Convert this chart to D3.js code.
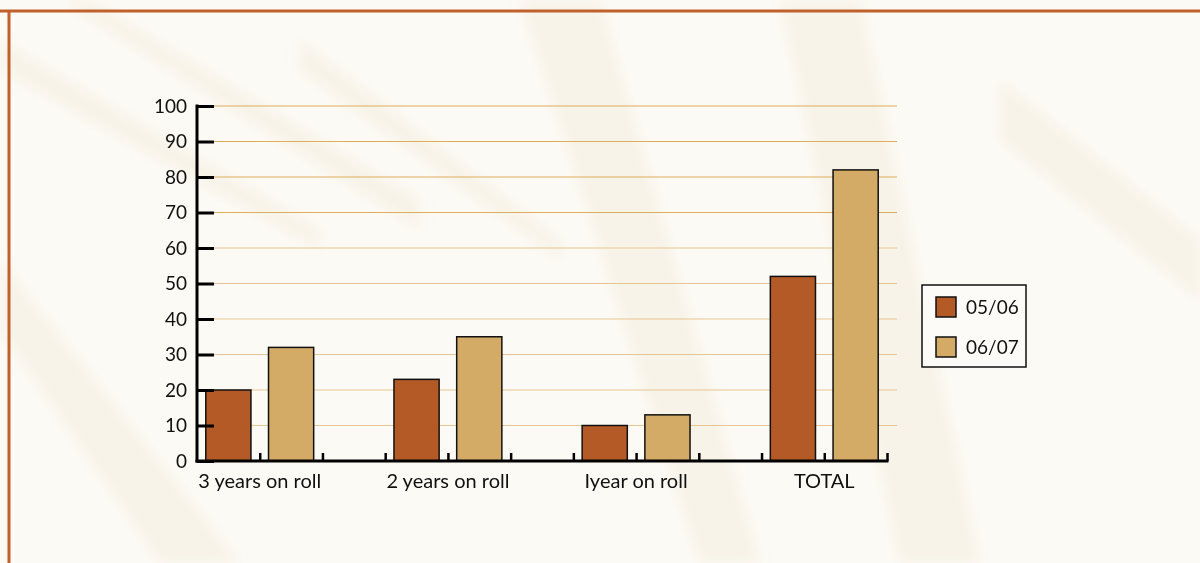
<!DOCTYPE html>
<html>
<head>
<meta charset="utf-8">
<script src="https://cdn.jsdelivr.net/npm/d3@7"></script>
<style>
  html, body { margin: 0; padding: 0; background: #fcfaf5; }
  svg { display: block; }
  text { font-family: "Lato", "Open Sans", sans-serif; fill: #111; }
</style>
</head>
<body>
<svg id="chart" width="1200" height="563"></svg>
<script>
// Pupil counts by time on roll
const categories = ["3 years on roll", "2 years on roll", "Iyear on roll", "TOTAL"];
const seriesNames = ["05/06", "06/07"];
const values0506 = [20, 23, 10, 52];
const values0607 = [32, 35, 13, 82];
const yTicks = [0, 10, 20, 30, 40, 50, 60, 70, 80, 90, 100];
const colors = ["#b35a27", "#d3aa66"];

const W = 1200, H = 563;
const svg = d3.select("#chart");

// Soft backdrop texture
const defs = svg.append("defs");
defs.append("filter").attr("id", "soft").append("feGaussianBlur").attr("stdDeviation", 6);
const bg = svg.append("g");
bg.append("rect").attr("width", W).attr("height", H).attr("fill", "#fcfaf5");
const streaks = [
  [[0, 40], [320, 230], [320, 250], [0, 70]],
  [[90, 0], [420, 200], [420, 230], [60, 0]],
  [[300, 40], [560, 240], [560, 260], [300, 70]],
  [[520, 0], [700, 563], [760, 563], [600, 0]],
  [[780, 0], [900, 563], [980, 563], [860, 0]],
  [[1000, 80], [1200, 240], [1200, 300], [1000, 140]],
  [[0, 330], [160, 563], [240, 563], [0, 260]]
];
bg.append("g").attr("filter", "url(#soft)")
  .selectAll("polygon").data(streaks).join("polygon")
  .attr("points", d => d.map(p => p.join(",")).join(" "))
  .attr("fill", "#efe4cd").attr("opacity", 0.3);

// Frame lines
svg.append("line").attr("x1", 0).attr("x2", W).attr("y1", 11).attr("y2", 11)
  .attr("stroke", "#c0612c").attr("stroke-width", 3);
svg.append("line").attr("x1", 9).attr("x2", 9).attr("y1", 10).attr("y2", H)
  .attr("stroke", "#c0612c").attr("stroke-width", 3);

const x0 = 197, x1 = 887;
const y = d3.scaleLinear().domain([0, 100]).range([461, 106]);

// 11 slots: two bars per category, an empty slot between categories
const slotCount = categories.length * 3 - 1;
const slot = d3.scaleBand().domain(d3.range(slotCount)).range([x0, x1]).paddingInner(0.28).paddingOuter(0.14);
const step = (x1 - x0) / slotCount;

// Gridlines
svg.append("g").selectAll("line").data(yTicks.filter(t => t > 0)).join("line")
  .attr("x1", x0 + 17).attr("x2", 897)
  .attr("y1", d => y(d)).attr("y2", d => y(d))
  .attr("stroke", d => d >= 70 ? "#deae5c" : "#e6c592").attr("stroke-width", 1.2);

// Bars
const barData = [];
categories.forEach((c, i) => {
  barData.push({ slot: i * 3, value: values0506[i], s: 0 });
  barData.push({ slot: i * 3 + 1, value: values0607[i], s: 1 });
});
svg.append("g").selectAll("rect").data(barData).join("rect")
  .attr("x", d => slot(d.slot))
  .attr("width", slot.bandwidth())
  .attr("y", d => y(d.value))
  .attr("height", d => y(0) - y(d.value))
  .attr("fill", d => colors[d.s])
  .attr("stroke", "#111").attr("stroke-width", 1.5);

// Y axis
const yAxis = d3.axisRight(y).tickValues(yTicks).tickSize(17).tickFormat("");
const ya = svg.append("g").attr("transform", `translate(${x0},0)`).call(yAxis);
ya.select(".domain").remove();
ya.selectAll(".tick line").attr("stroke", "#000").attr("stroke-width", 3);
svg.append("line").attr("x1", x0).attr("x2", x0).attr("y1", y(100) - 1.5).attr("y2", y(0) + 1.5)
  .attr("stroke", "#000").attr("stroke-width", 3);
svg.append("g").selectAll("text").data(yTicks).join("text")
  .attr("x", 187).attr("y", d => y(d)).attr("dy", "0.36em")
  .attr("text-anchor", "end").attr("font-size", 19).text(d => d);

// X axis with a tick at each slot boundary
const xb = d3.scaleLinear().domain([0, slotCount]).range([x0, x1]);
const xAxis = d3.axisTop(xb).tickValues(d3.range(1, slotCount + 1)).tickSize(8).tickFormat("");
const xa = svg.append("g").attr("transform", `translate(0,${y(0)})`).call(xAxis);
xa.select(".domain").remove();
xa.selectAll(".tick line").attr("stroke", "#000").attr("stroke-width", 2.5);
svg.append("line").attr("x1", x0 - 1.5).attr("x2", x1 + 1.5).attr("y1", y(0)).attr("y2", y(0))
  .attr("stroke", "#000").attr("stroke-width", 3);

// Category labels centred under each pair of bars
svg.append("g").selectAll("text").data(categories).join("text")
  .attr("x", (d, i) => x0 + step * (i * 3 + 1))
  .attr("y", 488).attr("text-anchor", "middle").attr("font-size", 20)
  .text(d => d);

// Legend
const lg = svg.append("g");
lg.append("rect").attr("x", 922).attr("y", 285).attr("width", 104).attr("height", 82)
  .attr("fill", "#fdfbf7").attr("stroke", "#111").attr("stroke-width", 1.5);
seriesNames.forEach((n, i) => {
  const ly = 297 + i * 40;
  lg.append("rect").attr("x", 936).attr("y", ly).attr("width", 20).attr("height", 20)
    .attr("fill", colors[i]).attr("stroke", "#111").attr("stroke-width", 1.5);
  lg.append("text").attr("x", 966).attr("y", ly + 10).attr("dy", "0.36em")
    .attr("font-size", 19).text(n);
});
</script>
</body>
</html>
